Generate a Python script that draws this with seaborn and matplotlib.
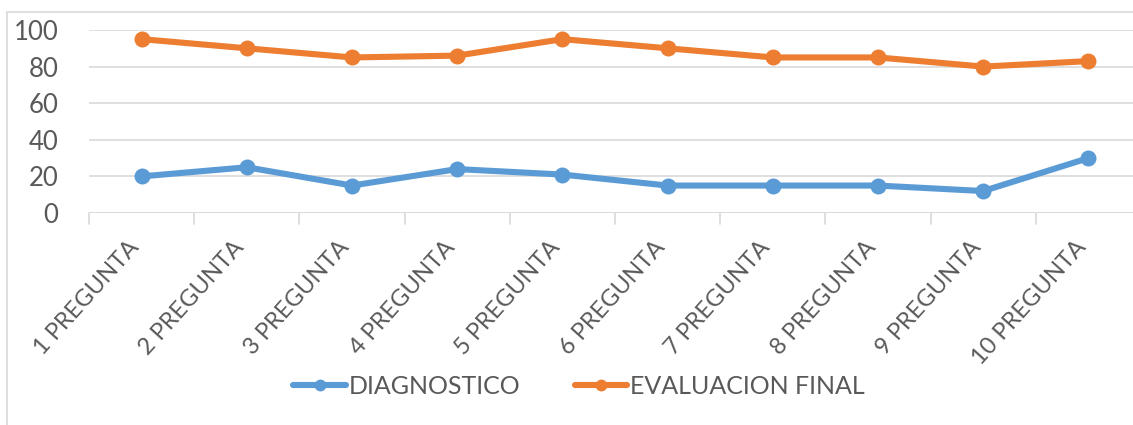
import matplotlib
matplotlib.use("Agg")
import matplotlib.pyplot as plt
import matplotlib.transforms as mtransforms
import seaborn as sns
import pandas as pd
from matplotlib.lines import Line2D
from matplotlib.patches import Rectangle

categories = ["1 PREGUNTA", "2 PREGUNTA", "3 PREGUNTA", "4 PREGUNTA", "5 PREGUNTA",
              "6 PREGUNTA", "7 PREGUNTA", "8 PREGUNTA", "9 PREGUNTA", "10 PREGUNTA"]
diagnostico = [20, 25, 15, 24, 21, 15, 15, 15, 12, 30]
evaluacion_final = [95, 90, 85, 86, 95, 90, 85, 85, 80, 83]
series_names = ["DIAGNOSTICO", "EVALUACION FINAL"]
yticks = [0, 20, 40, 60, 80, 100]

colors = {"DIAGNOSTICO": "#5B9BD5", "EVALUACION FINAL": "#ED7D31"}

df = pd.DataFrame({
    "cat": categories * 2,
    "x": list(range(len(categories))) * 2,
    "val": diagnostico + evaluacion_final,
    "serie": [series_names[0]] * len(categories) + [series_names[1]] * len(categories),
})

sns.set_style("white")
plt.rcParams["font.family"] = ["Lato", "DejaVu Sans"]
text_color = "#595959"

W, H = 1133, 425
fig = plt.figure(figsize=(W / 100, H / 100), dpi=100)
left, right = 89, 1141
y0, y100 = 213, 30
ax = fig.add_axes([left / W, 1 - y0 / H, (right - left) / W, (y0 - y100) / H])

sns.lineplot(data=df, x="x", y="val", hue="serie", palette=colors, ax=ax,
             marker="o", markersize=11.5, linewidth=4.4, markeredgewidth=0,
             legend=False, sort=False)

ax.set_xlim(-0.5, len(categories) - 0.5)
ax.set_ylim(0, 100)
ax.set_yticks(yticks)
ax.set_yticklabels([str(v) for v in yticks], fontsize=18.5, color=text_color)
ax.yaxis.grid(True, color="#D9D9D9", linewidth=1.2)
ax.set_axisbelow(True)
ax.tick_params(axis="y", length=0, pad=22)

ax.set_xticks(range(len(categories)))
ax.set_xticklabels(categories, rotation=48, ha="right", rotation_mode="anchor",
                   fontsize=17, color=text_color)
ax.tick_params(axis="x", length=0, pad=17)
shift = mtransforms.ScaledTranslation(-14 / 100, 0, fig.dpi_scale_trans)
for lbl in ax.get_xticklabels():
    lbl.set_transform(lbl.get_transform() + shift)
for b in range(len(categories) + 1):
    ax.plot([b - 0.5, b - 0.5], [0, -6], color="#D9D9D9", linewidth=1.2,
            clip_on=False, transform=ax.transData)
ax.set_xlabel("")
ax.set_ylabel("")
for s in ax.spines.values():
    s.set_visible(False)
ax.axhline(0, color="#D9D9D9", linewidth=1.2, zorder=0)

handles = [Line2D([0], [0], color=colors[n], linewidth=4.4, marker="o",
                  markersize=8.5, markeredgewidth=0) for n in series_names]
fig.legend(handles, series_names, loc="center", bbox_to_anchor=(579 / W, 1 - 386 / H),
           ncol=2, frameon=False, fontsize=18, labelcolor=text_color,
           handlelength=2.1, handletextpad=0.1, columnspacing=2.2)

fig.patches.append(Rectangle((7 / W, -0.1), 1.2, 1 - 12 / H + 0.1, transform=fig.transFigure,
                             fill=False, edgecolor="#D9D9D9", linewidth=1.2))

fig.savefig("out.png", dpi=100)
